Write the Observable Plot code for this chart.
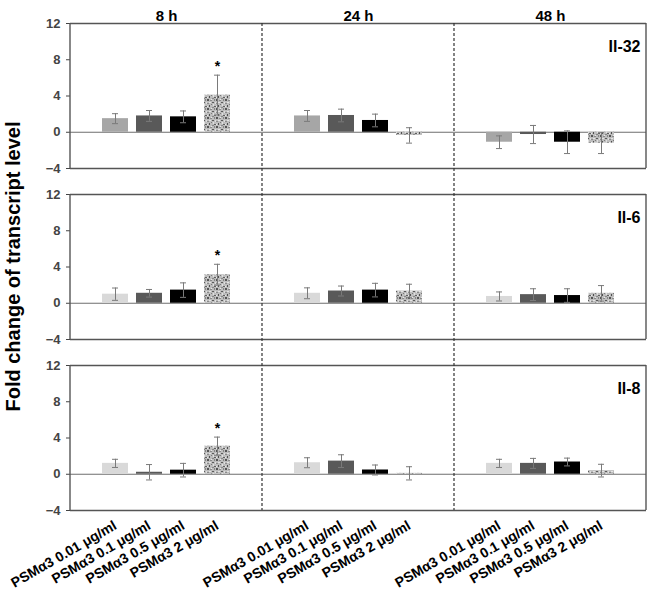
<!DOCTYPE html>
<html><head><meta charset="utf-8">
<script src="https://cdn.jsdelivr.net/npm/d3@7"></script>
<script src="https://cdn.jsdelivr.net/npm/@observablehq/plot@0.6"></script>
<style>body{margin:0;background:#fff;} #chart svg{display:block}</style>
</head><body><div id="chart"></div>
<script>
const times = ["8 h", "24 h", "48 h"];
const genes = ["Il-32", "Il-6", "Il-8"];
const doses = ["PSMα3 0.01 μg/ml", "PSMα3 0.1 μg/ml", "PSMα3 0.5 μg/ml", "PSMα3 2 μg/ml"];
const yTicks = [-4, 0, 4, 8, 12];
// values ordered: 8 h (4 doses), 24 h (4 doses), 48 h (4 doses)
const il32Mean = [1.5, 1.8, 1.7, 4.1,   1.8, 1.85, 1.3, -0.35,   -1.1, -0.25, -1.1, -1.2];
const il32Sd   = [0.55, 0.6, 0.65, 2.2,  0.6, 0.7, 0.7, 0.85,     0.7, 1.0, 1.25, 1.15];
const il6Mean  = [1.0, 1.1, 1.45, 3.15,  1.1, 1.35, 1.45, 1.35,   0.75, 0.95, 0.85, 1.1];
const il6Sd    = [0.68, 0.42, 0.8, 1.15, 0.6, 0.55, 0.75, 0.75,   0.5, 0.65, 0.75, 0.85];
const il8Mean  = [1.2, 0.22, 0.45, 3.1,  1.27, 1.45, 0.47, 0.1,   1.2, 1.2, 1.35, 0.4];
const il8Sd    = [0.45, 0.85, 0.75, 1.0, 0.55, 0.7, 0.55, 0.73,   0.45, 0.55, 0.43, 0.7];
const significantGenes = ["Il-32", "Il-6", "Il-8"];
const significantTime = "8 h";
const significantDose = "PSMα3 2 μg/ml";

(function () {
const means = {"Il-32": il32Mean, "Il-6": il6Mean, "Il-8": il8Mean};
const sds = {"Il-32": il32Sd, "Il-6": il6Sd, "Il-8": il8Sd};
const data = genes.flatMap(g => times.flatMap((t, ti) => doses.map((d, di) => ({
  gene: g, time: t, dose: d, mean: means[g][ti * 4 + di], sd: sds[g][ti * 4 + di]
}))));
const stars = data.filter(d => significantGenes.includes(d.gene) && d.time === significantTime && d.dose === significantDose);
const labelData = times.flatMap(t => doses.map(d => ({gene: genes[2], time: t, dose: d})));
const titleData = times.map(t => ({gene: genes[0], time: t}));
const geneData = genes.map(g => ({gene: g, time: times[2]}));

const fillFor = d => d.dose === doses[3] ? "url(#speckle)"
  : d.dose === doses[2] ? "#000000"
  : d.dose === doses[1] ? "#595959"
  : (d.gene === genes[0] ? "#a6a6a6" : "#d9d9d9");

const font = "'Liberation Sans', Arial, sans-serif";
const plot = Plot.plot({
  width: 650, height: 593,
  marginLeft: 70, marginRight: 4, marginTop: 23, marginBottom: 82,
  style: {fontFamily: font, fontSize: "13px", background: "#fff", color: "#000", overflow: "visible"},
  fx: {domain: times, paddingInner: 0, paddingOuter: 0, axis: null},
  fy: {domain: genes, paddingInner: 0.152, paddingOuter: 0, axis: null},
  x: {domain: doses, paddingInner: 0.23, paddingOuter: 0.885, axis: null},
  y: {domain: [-4, 12]},
  color: {type: "identity"},
  marks: [
    Plot.ruleY([0], {stroke: "#6e6e6e", strokeWidth: 1.2}),
    Plot.barY(data, {fx: "time", fy: "gene", x: "dose", y: "mean", fill: fillFor}),
    Plot.ruleX(data, {fx: "time", fy: "gene", x: "dose", y1: d => d.mean - d.sd, y2: d => d.mean + d.sd, stroke: "#7a7a7a", strokeWidth: 1}),
    Plot.tickY(data, {fx: "time", fy: "gene", x: "dose", y: d => d.mean + d.sd, stroke: "#7a7a7a", strokeWidth: 1, insetLeft: 10, insetRight: 10}),
    Plot.tickY(data, {fx: "time", fy: "gene", x: "dose", y: d => d.mean - d.sd, stroke: "#7a7a7a", strokeWidth: 1, insetLeft: 10, insetRight: 10}),
    Plot.ruleY([-4, 12], {stroke: "#555", strokeWidth: 1.4}),
    Plot.axisY({ticks: yTicks, tickSize: 4, tickPadding: 6, fontSize: 13, fontWeight: "bold", color: "#444", label: null}),
    Plot.text(stars, {fx: "time", fy: "gene", x: "dose", y: d => d.mean + d.sd, text: () => "*", dy: -9, fontSize: 14, fontWeight: "bold", fill: "#000"}),
    Plot.text(titleData, {fx: "time", fy: "gene", text: "time", frameAnchor: "top", dy: -13, fontSize: 15, fontWeight: "bold", fill: "#000"}),
    Plot.text(geneData, {fx: "time", fy: "gene", text: "gene", frameAnchor: "top-right", dx: -6, dy: 17, fontSize: 16, fontWeight: "bold", fill: "#000"}),
    Plot.text(labelData, {fx: "time", fy: "gene", x: "dose", text: "dose", frameAnchor: "bottom", dy: 14, dx: 0, rotate: -30, textAnchor: "end", lineAnchor: "middle", fontSize: 14, fontWeight: "bold", fill: "#000"})
  ]
});

const svg = d3.select(plot);
const defs = svg.insert("defs", ":first-child");
const pat = defs.append("pattern").attr("id", "speckle").attr("width", 9).attr("height", 9).attr("patternUnits", "userSpaceOnUse");
pat.append("rect").attr("width", 9).attr("height", 9).attr("fill", "#bdbdbd");
[[0,0,2,2,"#555"],[5,3,2,1,"#5a5a5a"],[2,6,1,2,"#505050"],[7,7,2,1,"#606060"],
 [3,1,2,1,"#8a8a8a"],[7,0,1,2,"#858585"],[0,4,2,1,"#8c8c8c"],[4,5,1,1,"#7a7a7a"],[5,8,2,1,"#888"],
 [2,3,2,1,"#e4e4e4"],[6,5,1,2,"#e0e0e0"],[0,7,1,1,"#eaeaea"],[8,3,1,2,"#dedede"],[4,0,1,1,"#e8e8e8"]]
  .forEach(([x, y, w, h, c]) => pat.append("rect").attr("x", x).attr("y", y).attr("width", w).attr("height", h).attr("fill", c));

const fxs = plot.scale("fx"), fys = plot.scale("fy");
const xLeft = fxs.apply(times[0]), xRight = fxs.apply(times[2]) + fxs.bandwidth;
const yTop = fys.apply(genes[0]), yBottom = fys.apply(genes[2]) + fys.bandwidth;
const g = svg.append("g");
genes.forEach(gn => {
  const y0 = fys.apply(gn), y1 = y0 + fys.bandwidth;
  g.append("line").attr("x1", xLeft).attr("x2", xLeft).attr("y1", y0).attr("y2", y1).attr("stroke", "#555").attr("stroke-width", 1.4);
  g.append("line").attr("x1", xRight).attr("x2", xRight).attr("y1", y0).attr("y2", y1).attr("stroke", "#555").attr("stroke-width", 1.4);
});
times.slice(1).forEach(t => {
  const x = fxs.apply(t);
  g.append("line").attr("x1", x).attr("x2", x).attr("y1", yTop).attr("y2", yBottom).attr("stroke", "#333").attr("stroke-width", 1.2).attr("stroke-dasharray", "3,2");
});
g.append("text").attr("transform", `translate(13,${(yTop + yBottom) / 2}) rotate(-90)`)
  .attr("text-anchor", "middle").attr("dominant-baseline", "central")
  .attr("font-family", font).attr("font-size", 20).attr("font-weight", "bold").attr("fill", "#000")
  .text("Fold change of transcript level");

document.getElementById("chart").append(plot);
})();
</script>
</body></html>
